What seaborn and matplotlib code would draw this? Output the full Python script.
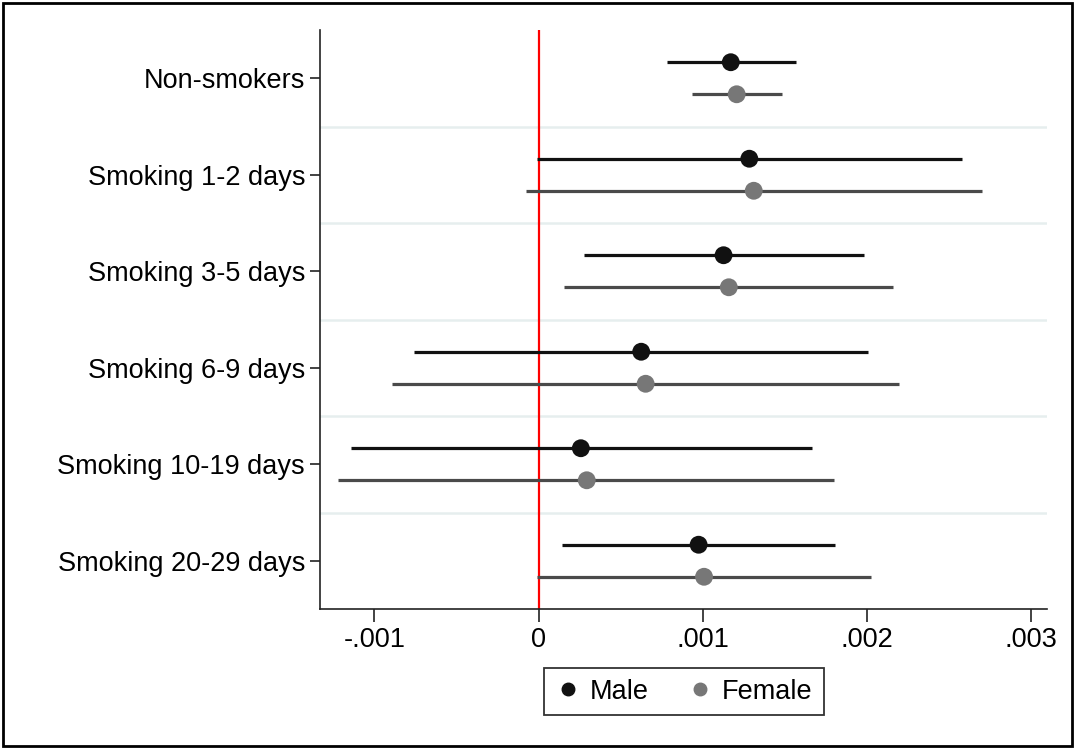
import matplotlib
matplotlib.use("Agg")
import matplotlib.pyplot as plt
import seaborn as sns
import pandas as pd
import numpy as np
from matplotlib.lines import Line2D
from matplotlib.patches import Rectangle

categories = ["Non-smokers", "Smoking 1-2 days", "Smoking 3-5 days",
              "Smoking 6-9 days", "Smoking 10-19 days", "Smoking 20-29 days"]
male_est = [0.001172, 0.001285, 0.001128, 0.000626, 0.000258, 0.000976]
male_lo = [0.000786, -0.000009, 0.000279, -0.000760, -0.001145, 0.000145]
male_hi = [0.001570, 0.002579, 0.001982, 0.002009, 0.001665, 0.001810]
female_est = [0.001208, 0.001312, 0.001160, 0.000653, 0.000294, 0.001009]
female_lo = [0.000935, -0.000074, 0.000154, -0.000893, -0.001220, -0.000012]
female_hi = [0.001487, 0.002703, 0.002160, 0.002196, 0.001804, 0.002027]
xticks = [-0.001, 0, 0.001, 0.002, 0.003]
xticklabels = ["-.001", "0", ".001", ".002", ".003"]

sns.set_style("white")
plt.rcParams['font.family'] = ['Liberation Sans', 'DejaVu Sans']
plt.rcParams['text.color'] = 'black'

rows = []
for i, c in enumerate(categories):
    rows.append(dict(cat=c, idx=i, sex="Male", est=male_est[i], lo=male_lo[i], hi=male_hi[i]))
    rows.append(dict(cat=c, idx=i, sex="Female", est=female_est[i], lo=female_lo[i], hi=female_hi[i]))
df = pd.DataFrame(rows)
offset = {"Male": -0.166, "Female": 0.166}
df["ypos"] = df["idx"] + df["sex"].map(offset)

pal = {"Male": "#111111", "Female": "#777777"}
line_col = {"Male": "#111111", "Female": "#4a4a4a"}

fig = plt.figure(figsize=(10.75, 7.5), dpi=100)
ax = fig.add_axes([0.298, 0.188, 0.676, 0.772])

# separators
for k in range(len(categories) - 1):
    ax.axhline(k + 0.5, color="#e6eeee", lw=1.8, zorder=0)

ax.axvline(0, color="red", lw=1.6, zorder=1)

for sex in ["Male", "Female"]:
    d = df[df.sex == sex]
    ax.hlines(d["ypos"], d["lo"], d["hi"], color=line_col[sex], lw=2.3, zorder=2)

sns.scatterplot(data=df, x="est", y="ypos", hue="sex", palette=pal, s=165,
                edgecolor="none", ax=ax, zorder=3, legend=False)

ax.set_ylim(len(categories) - 0.5, -0.5)
ax.set_xlim(-0.00133, 0.00310)
ax.set_yticks(range(len(categories)))
ax.set_yticklabels(categories, fontsize=19.5, color="black")
ax.set_xticks(xticks)
ax.set_xticklabels(xticklabels, fontsize=19.5, color="black")
ax.set_xlabel("")
ax.set_ylabel("")
for s in ["top", "right"]:
    ax.spines[s].set_visible(False)
for s in ["left", "bottom"]:
    ax.spines[s].set_color("#222222")
    ax.spines[s].set_linewidth(1.2)
ax.tick_params(axis="y", direction="out", length=7, width=1.2, color="#222222", pad=4, left=True)
ax.tick_params(axis="x", direction="out", length=9, width=1.2, color="#222222", pad=4, bottom=True)

handles = [Line2D([], [], marker="o", ls="none", color=pal["Male"], markersize=9, label="Male"),
           Line2D([], [], marker="o", ls="none", color=pal["Female"], markersize=9, label="Female")]
leg = ax.legend(handles=handles, loc="upper center", bbox_to_anchor=(0.5, -0.078), ncol=2,
                frameon=True, fancybox=False, fontsize=19.5, handletextpad=0.3,
                columnspacing=1.4, borderpad=0.4, handlelength=1.0)
leg.get_frame().set_edgecolor("black")
leg.get_frame().set_linewidth(1.3)
for t in leg.get_texts():
    t.set_color("black")

fig.patches.append(Rectangle((0.003, 0.005), 0.994, 0.991, transform=fig.transFigure,
                             fill=False, edgecolor="black", lw=2))

fig.savefig("out.png", dpi=100)
